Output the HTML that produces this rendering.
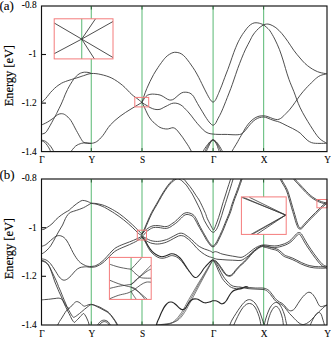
<!DOCTYPE html>
<html><head><meta charset="utf-8"><style>html,body{margin:0;padding:0;background:#fff;width:331px;height:337px;overflow:hidden}svg{display:block}</style></head>
<body>
<svg width="331" height="337" viewBox="0 0 331 337">
<style>.f{font-family:"Liberation Serif",serif;fill:#000}.t{font-family:"Liberation Serif",serif;font-size:9.7px;fill:#000;stroke:#000;stroke-width:0.25px}.l{font-family:"Liberation Serif",serif;font-size:13px;fill:#000;stroke:#000;stroke-width:0.3px}.e{font-family:"Liberation Serif",serif;font-size:12.3px;fill:#000;stroke:#000;stroke-width:0.3px}</style>
<rect width="331" height="337" fill="#fff"/>
<clipPath id="c1"><rect x="41.5" y="6.0" width="285.5" height="145.6"/></clipPath>
<line x1="91.3" y1="6.0" x2="91.3" y2="151.6" stroke="#74c48a" stroke-width="1.2"/>
<line x1="142.0" y1="6.0" x2="142.0" y2="151.6" stroke="#74c48a" stroke-width="1.2"/>
<line x1="213.1" y1="6.0" x2="213.1" y2="151.6" stroke="#74c48a" stroke-width="1.2"/>
<line x1="263.6" y1="6.0" x2="263.6" y2="151.6" stroke="#74c48a" stroke-width="1.2"/>
<g clip-path="url(#c1)" fill="none" stroke="#3a3a3a" stroke-width="0.9">
<path d="M41.5 102.5C41.9 102.1 43.0 101.3 44.0 100.3C45.0 99.3 46.2 97.8 47.3 96.5C48.4 95.2 49.3 93.8 50.5 92.5C51.7 91.2 53.2 89.6 54.5 88.4C55.8 87.2 56.8 86.4 58.0 85.5C59.2 84.6 60.5 83.8 61.7 83.1C63.0 82.4 64.3 82.0 65.5 81.5C66.7 81.0 67.5 80.8 69.0 80.3C70.5 79.8 72.7 79.1 74.4 78.6C76.1 78.1 77.5 77.7 79.0 77.2C80.5 76.7 81.5 76.3 83.5 75.7C85.5 75.1 88.4 73.7 91.3 73.5C94.2 73.3 97.5 73.7 100.9 74.5C104.3 75.3 108.2 76.3 111.8 78.1C115.4 79.9 119.3 82.7 122.6 85.4C125.9 88.1 129.1 92.1 131.7 94.4C134.3 96.7 136.3 97.9 138.0 99.2C139.7 100.5 141.3 101.9 142.0 102.4"/>
<path d="M41.5 134.0C41.9 133.9 43.2 133.9 44.0 133.5C44.8 133.1 45.5 132.8 46.3 131.8C47.1 130.8 47.6 129.9 49.0 127.5C50.4 125.1 53.1 120.0 54.5 117.5C55.9 115.0 56.2 114.4 57.2 112.3C58.2 110.2 59.7 107.3 60.8 105.0C61.9 102.7 62.5 101.1 63.6 98.5C64.7 95.9 65.8 92.7 67.5 89.5C69.2 86.3 71.6 82.1 73.5 79.5C75.4 76.9 77.2 75.2 79.0 74.0C80.8 72.8 82.7 72.4 84.4 72.2C86.1 72.0 87.8 72.4 89.0 72.6C90.2 72.8 90.9 73.3 91.3 73.5"/>
<path d="M41.5 125.0C42.5 124.5 45.1 123.5 47.3 122.2C49.5 120.9 52.7 118.6 54.5 117.3C56.3 116.0 56.8 115.1 58.0 114.5C59.2 113.9 60.5 113.6 61.7 113.7C62.9 113.8 63.9 113.9 65.4 115.0C66.9 116.1 69.0 117.8 70.8 120.4C72.6 123.0 74.6 127.4 76.3 130.4C78.0 133.4 79.6 136.5 80.8 138.5C82.0 140.5 82.5 141.4 83.5 142.2C84.5 143.0 85.8 143.0 87.1 143.2C88.4 143.4 89.7 143.7 91.3 143.4C92.9 143.1 94.8 142.9 96.7 141.6C98.6 140.3 100.5 138.4 102.8 135.6C105.1 132.8 107.4 128.2 110.3 125.0C113.2 121.8 116.5 119.0 120.0 116.3C123.5 113.6 127.3 111.3 131.0 109.0C134.7 106.7 140.2 103.5 142.0 102.4"/>
<path d="M41.5 140.0C42.1 140.2 44.1 140.6 45.4 141.3C46.7 142.1 48.0 143.4 49.1 144.5C50.2 145.6 51.0 146.8 51.8 148.1C52.6 149.3 53.6 151.3 54.0 152.0"/>
<path d="M41.5 140.7C42.0 140.9 43.5 141.4 44.5 142.2C45.5 143.0 46.5 144.3 47.3 145.4C48.1 146.5 48.9 147.9 49.5 149.0C50.1 150.1 50.5 151.5 50.7 152.0"/>
<path d="M70.3 152.5C71.2 151.4 73.7 147.6 75.6 146.1C77.5 144.6 79.9 143.8 81.6 143.3C83.3 142.8 84.4 142.9 86.0 142.9C87.6 142.9 90.4 143.2 91.3 143.3"/>
<path d="M142.0 102.4C142.3 101.3 143.2 98.3 144.0 96.0C144.8 93.7 145.8 90.9 146.8 88.5C147.8 86.1 148.9 83.8 150.0 81.5C151.1 79.2 152.3 76.8 153.6 74.5C154.9 72.2 156.5 69.8 158.0 67.5C159.5 65.2 161.4 62.6 162.7 60.9C164.0 59.1 164.9 58.1 166.0 57.0C167.1 55.9 168.3 55.0 169.5 54.3C170.7 53.6 171.9 52.9 173.0 52.6C174.1 52.3 174.9 52.2 176.0 52.3C177.1 52.4 178.5 52.6 179.8 53.1C181.1 53.6 182.3 54.4 183.6 55.5C184.9 56.6 186.1 58.2 187.4 59.8C188.7 61.4 189.9 63.2 191.2 65.0C192.5 66.8 193.7 68.6 195.0 70.7C196.3 72.8 197.7 75.4 198.8 77.5C199.9 79.6 200.8 81.5 201.7 83.4C202.6 85.3 203.6 87.2 204.5 89.1C205.4 91.0 206.6 93.1 207.4 94.7C208.2 96.3 208.9 97.5 209.5 98.5C210.1 99.5 210.6 100.3 211.2 100.9C211.8 101.5 212.3 101.9 212.8 102.0C213.3 102.1 213.8 102.0 214.3 101.5C214.8 101.0 215.4 100.2 215.9 99.3C216.4 98.4 216.9 97.1 217.4 96.0C217.9 94.9 218.2 94.3 218.9 92.5C219.7 90.7 220.9 87.7 221.9 85.2C222.9 82.7 223.8 79.9 224.8 77.3C225.8 74.7 226.9 72.0 227.8 69.5C228.8 67.0 229.5 64.8 230.5 62.0C231.5 59.2 232.6 55.7 233.8 52.5C235.0 49.3 236.5 45.6 237.7 43.0C238.9 40.4 240.0 38.5 241.0 36.8C242.0 35.0 242.8 33.9 243.8 32.5C244.8 31.1 245.8 29.6 246.9 28.3C248.0 27.0 249.3 25.6 250.5 24.7C251.7 23.8 253.0 23.2 254.2 22.9C255.4 22.6 256.7 22.8 257.8 22.9C258.9 23.0 259.8 23.4 260.8 23.7C261.8 24.0 262.7 24.3 263.6 24.9C264.5 25.5 265.2 26.1 266.3 27.1C267.4 28.1 268.6 28.9 270.0 30.9C271.4 32.9 273.1 35.9 274.7 39.0C276.3 42.1 278.1 46.2 279.5 49.7C280.9 53.2 282.0 56.9 283.0 60.0C284.0 63.1 284.5 65.2 285.5 68.5C286.5 71.8 287.6 75.7 289.0 79.5C290.4 83.3 291.9 86.7 293.8 91.4C295.7 96.1 297.4 102.1 300.2 107.8C302.9 113.5 307.1 120.5 310.3 125.5C313.5 130.6 316.4 135.2 319.1 138.1C321.8 141.0 325.4 142.3 326.6 143.2"/>
<path d="M142.0 102.4C142.4 101.7 143.6 99.5 144.5 98.3C145.4 97.1 146.2 96.0 147.3 95.3C148.4 94.6 149.8 94.4 151.0 94.2C152.2 94.0 153.0 94.1 154.5 94.2C156.0 94.3 158.4 94.5 160.0 95.0C161.6 95.5 162.5 96.2 163.8 96.9C165.1 97.6 166.4 98.8 167.6 99.3C168.8 99.8 169.8 100.2 170.9 100.1C172.0 100.0 173.0 99.6 174.2 98.8C175.4 98.0 176.7 96.5 178.0 95.5C179.3 94.5 180.6 93.3 181.8 92.8C183.0 92.2 184.1 92.2 185.2 92.2C186.3 92.2 187.5 92.3 188.5 92.6C189.5 92.9 190.2 93.2 191.0 93.8C191.8 94.4 192.7 95.1 193.5 96.3C194.3 97.5 195.1 99.2 196.0 100.8C196.9 102.4 198.0 104.4 199.0 106.1C200.0 107.8 201.1 109.5 202.1 111.2C203.1 112.9 204.1 114.6 205.1 116.2C206.1 117.8 207.3 119.6 208.1 120.7C208.9 121.8 209.4 122.4 210.0 123.0C210.6 123.6 211.0 124.1 211.5 124.5C212.0 124.9 212.5 125.2 213.0 125.2C213.5 125.2 214.0 124.9 214.5 124.5C215.0 124.1 215.4 123.6 216.0 122.6C216.6 121.5 217.3 119.9 218.2 118.2C219.1 116.5 220.3 114.4 221.3 112.2C222.3 110.0 223.3 107.5 224.3 105.1C225.3 102.6 226.2 100.3 227.3 97.5C228.4 94.7 229.7 91.4 230.8 88.5C231.9 85.6 232.7 83.3 233.8 80.0C235.0 76.7 236.4 72.2 237.7 68.6C239.0 65.0 240.4 61.5 241.7 58.2C243.0 55.0 244.2 52.0 245.6 49.1C247.0 46.2 248.8 43.0 250.0 40.6C251.2 38.2 251.9 36.7 253.0 35.0C254.1 33.3 255.4 31.8 256.6 30.5C257.8 29.2 259.0 28.0 260.2 27.1C261.4 26.2 262.6 25.4 263.6 24.9C264.6 24.4 265.2 24.2 266.3 24.1C267.4 24.0 268.4 23.9 270.0 24.5C271.6 25.1 273.9 26.2 275.9 27.7C277.9 29.2 279.9 31.3 281.9 33.6C283.9 35.9 285.8 38.6 287.8 41.4C289.8 44.2 291.7 47.4 293.7 50.2C295.7 53.0 298.1 55.8 300.0 58.0C301.9 60.2 303.3 61.9 305.0 63.5C306.7 65.1 308.3 66.3 310.0 67.5C311.7 68.7 313.3 69.7 315.0 70.5C316.7 71.3 318.1 72.0 320.0 72.5C321.9 73.0 325.5 73.6 326.6 73.8"/>
<path d="M142.0 102.4C142.4 102.7 143.6 103.6 144.5 104.2C145.4 104.8 146.4 105.2 147.3 105.8C148.2 106.3 149.1 107.0 150.0 107.5C150.9 108.0 151.7 108.4 152.7 108.7C153.7 109.0 154.8 109.4 156.0 109.5C157.2 109.6 158.7 109.6 160.0 109.3C161.3 109.0 162.5 108.0 163.8 107.4C165.1 106.8 166.3 106.1 167.6 105.5C168.9 104.9 170.1 104.0 171.4 103.6C172.7 103.2 173.9 103.0 175.2 103.1C176.5 103.2 177.7 103.5 179.0 104.0C180.3 104.5 181.7 105.5 182.8 106.4C183.9 107.3 184.7 108.4 185.6 109.3C186.5 110.2 187.1 110.8 188.0 111.8C188.9 112.8 189.9 113.9 190.8 115.1C191.8 116.3 192.6 117.5 193.7 118.9C194.8 120.3 196.2 122.2 197.5 123.7C198.8 125.2 200.0 126.6 201.3 127.9C202.6 129.2 203.8 130.6 205.1 131.5C206.4 132.4 207.6 133.0 208.9 133.4C210.2 133.8 211.7 133.9 213.2 134.1C214.7 134.3 216.0 134.3 218.0 134.4C220.0 134.5 223.0 134.4 225.0 134.4C227.0 134.4 228.2 134.5 230.0 134.6C231.8 134.7 234.3 134.8 235.9 134.8C237.5 134.8 238.4 134.7 239.5 134.5C240.6 134.3 241.2 134.2 242.2 133.5C243.2 132.8 244.4 131.4 245.5 130.2C246.6 129.0 247.5 127.6 248.6 126.3C249.7 125.0 250.8 123.5 252.0 122.3C253.2 121.1 254.6 120.1 255.8 119.3C257.1 118.5 258.2 118.0 259.5 117.6C260.8 117.2 262.4 117.0 263.6 117.0C264.9 117.0 265.9 117.4 267.0 117.8C268.1 118.2 269.1 118.8 270.3 119.2C271.5 119.7 272.8 120.1 274.0 120.5C275.2 120.9 276.4 121.1 277.6 121.5C278.8 121.9 279.8 122.2 281.0 122.8C282.2 123.3 283.5 124.0 285.0 124.8C286.5 125.5 288.4 126.5 290.1 127.3C291.8 128.1 293.3 128.8 295.0 129.8C296.7 130.8 298.7 131.9 300.2 133.1C301.7 134.3 302.7 135.8 304.0 137.0C305.3 138.2 306.6 139.7 307.8 140.6C309.1 141.5 310.2 142.1 311.5 142.6C312.8 143.1 314.0 143.2 315.4 143.3C316.8 143.4 318.1 143.4 320.0 143.4C321.9 143.4 325.5 143.3 326.6 143.3"/>
<path d="M142.0 102.4C142.4 103.2 143.7 105.7 144.5 107.5C145.3 109.3 146.2 111.5 147.0 113.0C147.8 114.5 148.2 115.6 149.0 116.8C149.8 118.0 150.6 119.2 151.5 120.3C152.4 121.4 153.5 122.3 154.5 123.2C155.5 124.1 156.6 125.0 157.5 125.7C158.4 126.4 159.0 126.9 160.0 127.4C161.0 127.9 162.3 128.3 163.5 128.6C164.7 128.9 166.1 129.0 167.2 129.0C168.3 129.0 169.0 128.6 170.0 128.4C171.0 128.2 172.1 127.5 173.1 127.7C174.1 127.9 175.2 128.4 176.2 129.3C177.2 130.2 178.2 131.7 179.3 133.0C180.4 134.3 181.4 135.7 182.5 137.2C183.6 138.7 184.6 140.2 185.6 141.8C186.6 143.4 187.8 144.9 188.7 146.5C189.6 148.1 190.7 150.1 191.3 151.2C191.9 152.3 192.3 152.7 192.5 153.0"/>
<path d="M202.4 152.5C202.8 151.8 204.1 149.5 205.0 148.2C205.9 146.9 206.8 145.6 207.6 144.6C208.4 143.6 209.2 142.6 209.8 141.9C210.5 141.2 211.0 140.7 211.5 140.4C212.0 140.1 212.5 139.9 213.0 139.9C213.5 139.9 213.9 140.1 214.5 140.4C215.1 140.7 215.6 141.2 216.3 141.9C217.0 142.6 217.8 143.6 218.5 144.6C219.2 145.6 219.9 146.9 220.7 148.2C221.5 149.5 222.7 151.8 223.1 152.5"/>
<path d="M204.3 152.5C204.7 151.8 205.7 149.7 206.4 148.4C207.1 147.1 207.8 145.8 208.5 144.7C209.2 143.6 209.8 142.7 210.3 142.0C210.8 141.3 211.2 140.8 211.7 140.5C212.1 140.2 212.6 140.0 213.0 140.0C213.4 140.0 213.8 140.2 214.3 140.5C214.8 140.8 215.2 141.3 215.8 142.0C216.4 142.7 217.0 143.6 217.6 144.7C218.2 145.8 218.9 147.1 219.5 148.4C220.1 149.7 221.1 151.8 221.4 152.5"/>
<path d="M205.8 152.5C206.1 151.8 207.0 149.9 207.6 148.6C208.2 147.3 208.8 146.0 209.3 144.9C209.8 143.8 210.4 142.8 210.8 142.1C211.2 141.4 211.6 140.9 212.0 140.6C212.4 140.3 212.7 140.1 213.0 140.1C213.3 140.1 213.6 140.3 214.0 140.6C214.4 140.9 214.8 141.4 215.3 142.1C215.8 142.8 216.4 143.8 216.9 144.9C217.4 146.0 217.7 147.3 218.2 148.6C218.7 149.9 219.4 151.8 219.7 152.5"/>
<path d="M231.3 152.5C231.8 151.6 233.4 148.8 234.5 147.0C235.6 145.2 236.8 143.3 237.7 141.7C238.6 140.1 239.2 138.8 240.0 137.5C240.8 136.2 241.4 135.2 242.2 133.8C243.0 132.4 244.1 130.3 245.0 128.8C245.9 127.3 246.7 126.1 247.7 124.8C248.7 123.5 249.8 122.1 251.0 121.0C252.2 119.9 253.6 118.8 254.9 118.0C256.2 117.2 257.6 116.6 259.0 116.2C260.4 115.8 262.3 115.8 263.6 115.8C264.9 115.8 265.9 116.1 267.0 116.4C268.1 116.7 269.1 117.2 270.3 117.6C271.5 118.0 272.8 118.7 274.0 119.0C275.2 119.3 276.5 119.7 277.6 119.6C278.7 119.5 279.6 119.0 280.5 118.5C281.4 118.0 282.2 117.2 283.0 116.5C283.8 115.8 283.8 115.7 285.0 114.5C286.2 113.3 288.4 111.1 290.1 109.1C291.8 107.1 293.3 104.8 295.0 102.5C296.7 100.2 298.4 97.6 300.2 95.2C302.0 92.8 303.9 90.6 306.0 88.3C308.1 86.0 311.1 83.1 312.8 81.4C314.6 79.7 315.2 79.0 316.5 78.0C317.8 77.0 318.7 76.2 320.4 75.5C322.1 74.8 325.6 74.1 326.6 73.8"/>
</g>
<clipPath id="c2"><rect x="41.5" y="179.0" width="285.5" height="146.0"/></clipPath>
<line x1="91.3" y1="179.0" x2="91.3" y2="325.0" stroke="#74c48a" stroke-width="1.2"/>
<line x1="142.0" y1="179.0" x2="142.0" y2="325.0" stroke="#74c48a" stroke-width="1.2"/>
<line x1="213.1" y1="179.0" x2="213.1" y2="325.0" stroke="#74c48a" stroke-width="1.2"/>
<line x1="263.6" y1="179.0" x2="263.6" y2="325.0" stroke="#74c48a" stroke-width="1.2"/>
<g clip-path="url(#c2)" fill="none" stroke="#3a3a3a" stroke-width="0.9">
<path d="M41.5 229.5C41.9 229.5 43.1 229.7 44.0 229.3C44.9 229.0 45.8 228.3 47.1 227.4C48.4 226.5 50.4 225.3 51.9 224.0C53.4 222.7 54.4 221.0 56.0 219.5C57.6 218.0 59.7 216.2 61.4 215.0C63.1 213.8 64.7 212.8 66.0 212.0C67.3 211.2 67.9 211.2 69.0 210.4C70.1 209.6 71.3 208.1 72.5 207.0C73.7 205.9 75.1 204.9 76.3 204.0C77.5 203.1 78.5 202.4 79.5 201.8C80.5 201.2 81.3 200.5 82.6 200.4C83.9 200.3 85.6 200.8 87.1 201.3C88.5 201.8 90.6 202.9 91.3 203.2"/>
<path d="M41.5 254.1C42.2 253.6 44.4 252.5 45.9 251.1C47.4 249.7 49.1 248.1 50.7 245.8C52.3 243.5 54.0 240.0 55.4 237.5C56.8 235.0 57.8 233.1 59.0 231.0C60.2 228.9 61.5 227.1 62.6 225.0C63.7 222.9 64.5 220.3 65.4 218.6C66.3 216.8 67.1 215.6 68.0 214.5C68.9 213.4 69.4 212.9 70.8 212.2C72.2 211.5 74.2 211.2 76.3 210.4C78.4 209.7 81.0 208.9 83.5 207.7C86.0 206.5 90.0 203.9 91.3 203.2"/>
<path d="M91.3 203.2C92.1 203.2 94.5 203.3 96.0 203.5C97.5 203.7 98.6 204.0 100.0 204.3C101.4 204.7 102.8 204.9 104.5 205.6C106.2 206.2 108.3 207.3 110.0 208.2C111.7 209.0 113.0 209.8 114.5 210.7C116.0 211.6 117.6 212.5 119.1 213.6C120.6 214.7 122.1 215.8 123.6 217.0C125.1 218.2 126.7 219.6 128.2 220.9C129.7 222.2 131.3 223.7 132.8 225.1C134.3 226.5 136.1 228.3 137.3 229.5C138.5 230.7 139.1 231.2 139.8 232.0C140.6 232.8 141.5 233.7 141.8 234.0"/>
<path d="M91.3 203.4C92.1 203.5 94.5 203.8 96.0 204.1C97.5 204.4 98.6 204.9 100.0 205.4C101.4 205.9 102.8 206.5 104.5 207.3C106.2 208.2 108.3 209.5 110.0 210.5C111.7 211.5 113.0 212.3 114.5 213.3C116.0 214.3 117.6 215.3 119.1 216.4C120.6 217.5 122.1 218.6 123.6 219.8C125.1 221.0 126.7 222.3 128.2 223.6C129.7 224.9 131.3 226.4 132.8 227.8C134.3 229.2 136.1 231.2 137.3 232.3C138.5 233.4 139.1 234.0 139.8 234.5C140.6 235.0 141.5 235.3 141.8 235.5"/>
<path d="M41.5 246.4C42.2 246.1 44.4 245.6 45.9 244.6C47.4 243.6 49.0 241.8 50.7 240.4C52.4 239.0 54.4 237.1 56.0 236.3C57.6 235.5 58.9 235.5 60.2 235.7C61.5 235.9 62.9 236.6 64.0 237.5C65.1 238.4 66.0 239.5 67.0 241.0C68.0 242.5 69.0 244.6 70.0 246.5C71.0 248.4 72.0 250.7 73.0 252.5C74.0 254.3 75.0 256.1 76.0 257.5C77.0 258.9 77.8 260.1 78.8 261.2C79.8 262.2 80.9 263.1 82.0 263.8C83.1 264.5 84.6 265.2 85.6 265.6C86.6 266.0 87.0 266.2 88.0 266.3C89.0 266.4 90.2 266.6 91.3 266.5C92.4 266.4 93.6 266.2 94.6 266.0C95.5 265.8 96.2 265.4 97.0 265.0C97.8 264.6 98.8 264.0 99.6 263.4C100.4 262.8 101.2 262.2 102.0 261.5C102.8 260.8 103.8 260.0 104.6 259.2C105.4 258.4 106.2 257.4 107.0 256.5C107.8 255.6 108.8 254.5 109.6 253.6C110.4 252.7 111.2 251.8 112.0 251.0C112.8 250.2 113.7 249.3 114.6 248.6C115.5 247.9 116.4 247.4 117.5 246.8C118.6 246.2 120.0 245.6 121.2 245.1C122.5 244.6 123.6 244.1 125.0 243.6C126.4 243.1 128.1 242.4 129.5 241.9C130.9 241.4 132.1 240.9 133.5 240.3C134.9 239.7 136.4 239.1 137.8 238.4C139.2 237.7 141.1 236.6 141.8 236.2"/>
<path d="M41.5 258.8C42.2 259.0 44.4 259.1 45.9 259.9C47.4 260.7 48.9 261.8 50.4 263.5C51.9 265.2 53.3 267.8 54.8 270.0C56.3 272.2 57.9 275.3 59.3 277.0C60.7 278.7 61.8 279.6 63.0 280.0C64.2 280.4 65.4 280.1 66.7 279.4C68.0 278.7 69.6 277.2 71.1 275.7C72.6 274.2 74.1 271.9 75.6 270.5C77.1 269.1 78.3 268.2 80.0 267.6C81.7 267.0 84.3 266.9 85.6 266.8C86.9 266.7 87.0 266.9 88.0 267.0C89.0 267.1 90.2 267.3 91.3 267.3C92.4 267.3 93.6 267.2 94.6 267.0C95.5 266.8 96.2 266.6 97.0 266.2C97.8 265.8 98.8 265.4 99.6 264.9C100.4 264.4 101.2 264.0 102.0 263.4C102.8 262.8 103.8 262.1 104.6 261.3C105.4 260.6 106.2 259.7 107.0 258.9C107.8 258.1 108.8 257.1 109.6 256.3C110.4 255.5 111.2 254.6 112.0 253.8C112.8 253.0 113.7 252.3 114.6 251.6C115.5 250.9 116.4 250.4 117.5 249.8C118.6 249.2 120.0 248.7 121.2 248.1C122.5 247.5 123.6 247.1 125.0 246.5C126.4 245.9 128.1 245.2 129.5 244.6C130.9 244.0 132.1 243.4 133.5 242.7C134.9 242.0 136.4 241.3 137.8 240.4C139.2 239.5 141.1 237.9 141.8 237.4"/>
<path d="M41.5 260.3C42.1 260.5 43.8 260.7 45.0 261.5C46.2 262.3 47.4 263.2 48.5 265.0C49.6 266.8 50.5 269.4 51.5 272.0C52.5 274.6 53.6 278.4 54.5 280.9C55.4 283.4 56.2 285.2 57.0 287.0C57.8 288.8 58.3 290.3 59.0 291.8C59.7 293.3 60.4 294.6 61.0 296.0C61.6 297.4 62.1 298.7 62.7 299.9C63.3 301.1 63.9 302.2 64.5 303.3C65.1 304.4 65.7 305.6 66.3 306.3C66.9 307.1 67.5 307.5 68.0 307.8C68.5 308.1 68.9 308.3 69.5 308.0C70.1 307.7 70.8 306.7 71.5 306.0C72.2 305.3 72.8 304.5 73.5 303.8C74.2 303.1 74.9 302.4 75.5 302.0C76.1 301.6 76.6 301.6 77.2 301.6C77.8 301.7 78.4 302.0 79.0 302.3C79.6 302.6 80.2 303.1 80.8 303.6C81.4 304.1 81.9 304.8 82.5 305.2C83.1 305.6 83.7 306.1 84.4 306.2C85.1 306.2 85.7 305.8 86.5 305.5C87.3 305.2 88.1 304.8 89.0 304.6C89.9 304.4 90.9 304.3 91.7 304.4C92.5 304.5 93.2 304.7 94.0 305.0C94.8 305.3 95.2 305.8 96.2 306.3C97.2 306.8 98.7 307.4 100.0 308.1C101.3 308.8 102.7 309.6 104.0 310.3C105.3 311.0 106.7 311.6 107.9 312.5C109.1 313.4 110.1 314.4 111.0 315.5C111.9 316.6 112.7 317.8 113.4 318.9C114.2 320.0 114.8 320.8 115.5 322.0C116.2 323.2 117.2 325.3 117.5 326.0"/>
<path d="M41.5 261.0C42.1 261.2 44.0 261.5 45.3 262.3C46.5 263.1 47.8 264.2 49.0 266.0C50.2 267.8 51.3 270.5 52.5 273.0C53.7 275.5 55.3 278.6 56.3 280.9C57.3 283.1 57.8 284.7 58.5 286.5C59.2 288.3 60.1 290.1 60.8 291.8C61.5 293.5 62.1 295.0 62.7 296.5C63.3 298.0 63.9 299.4 64.5 300.8C65.1 302.2 65.7 303.6 66.3 305.0C66.9 306.4 67.5 307.8 68.1 309.0C68.7 310.2 69.4 311.2 70.0 312.3C70.6 313.4 71.1 314.5 71.7 315.3C72.3 316.1 72.9 317.1 73.5 317.3C74.1 317.5 74.7 316.9 75.3 316.6C75.9 316.3 76.5 315.8 77.2 315.3C77.9 314.8 78.8 314.1 79.5 313.5C80.2 312.9 80.9 312.4 81.7 311.7C82.5 311.0 83.6 310.1 84.5 309.3C85.4 308.6 86.3 307.8 87.1 307.2C87.9 306.6 88.7 305.9 89.5 305.5C90.3 305.1 90.8 304.6 91.7 304.6C92.6 304.6 93.6 305.0 95.0 305.4C96.4 305.8 98.5 306.5 100.0 307.2C101.5 307.9 102.7 308.8 104.0 309.5C105.3 310.2 106.8 310.9 107.9 311.7C109.0 312.5 109.6 313.4 110.5 314.5C111.4 315.6 112.5 316.9 113.4 318.1C114.3 319.4 115.2 320.7 116.0 322.0C116.8 323.3 117.8 325.3 118.2 326.0"/>
<path d="M41.5 299.9C42.2 299.8 44.4 299.6 46.0 299.5C47.6 299.4 49.4 299.2 50.9 299.0C52.4 298.8 53.8 298.6 55.0 298.5C56.2 298.4 57.3 298.1 58.1 298.1C58.9 298.1 59.4 298.2 60.0 298.4C60.6 298.6 61.2 298.6 61.8 299.2C62.4 299.8 62.9 300.8 63.5 302.0C64.1 303.2 64.8 305.0 65.4 306.3C66.0 307.6 66.6 308.8 67.2 310.0C67.8 311.2 68.5 312.4 69.0 313.5C69.5 314.6 70.0 315.6 70.5 316.5C71.0 317.4 71.3 318.2 71.7 319.0C72.1 319.8 72.5 320.4 73.0 321.0C73.5 321.6 73.8 322.5 74.4 322.4C75.0 322.3 75.7 321.2 76.5 320.5C77.3 319.8 78.2 318.8 79.0 318.0C79.8 317.2 80.5 316.2 81.2 315.5C82.0 314.8 82.9 313.6 83.5 313.5C84.1 313.4 84.5 314.4 85.0 315.0C85.5 315.6 85.9 316.3 86.2 317.0C86.5 317.7 86.8 318.2 87.1 319.0C87.4 319.8 87.9 320.6 88.2 321.5C88.5 322.4 88.8 323.6 89.0 324.4C89.2 325.1 89.4 325.7 89.5 326.0"/>
<path d="M57.2 326.0C57.6 325.2 58.7 322.8 59.5 321.5C60.3 320.2 61.0 319.2 61.8 318.0C62.5 316.8 63.2 315.5 64.0 314.3C64.8 313.1 65.6 311.7 66.3 310.8C67.0 309.9 67.5 309.5 68.0 309.0C68.5 308.5 69.2 308.2 69.5 308.0"/>
<path d="M97.0 326.0C97.3 325.5 98.2 324.0 98.8 323.2C99.4 322.4 100.1 321.8 100.7 321.3C101.3 320.8 101.9 320.6 102.5 320.4C103.1 320.2 103.7 320.2 104.3 320.2C104.9 320.2 105.4 320.4 106.0 320.6C106.6 320.9 107.4 321.2 108.0 321.7C108.6 322.2 109.0 322.8 109.5 323.5C110.0 324.2 110.5 325.6 110.7 326.0"/>
<path d="M98.6 326.0C98.9 325.6 99.6 324.4 100.2 323.8C100.8 323.2 101.3 322.7 102.0 322.3C102.7 321.9 103.5 321.6 104.3 321.6C105.0 321.6 105.8 321.9 106.5 322.2C107.2 322.5 107.7 323.0 108.2 323.6C108.7 324.2 109.2 325.6 109.4 326.0"/>
<path d="M141.8 234.8C142.3 233.9 143.7 231.6 144.8 229.3C145.9 227.0 147.2 223.7 148.4 221.0C149.6 218.3 150.6 215.8 152.0 213.1C153.4 210.4 155.2 207.6 156.8 204.8C158.4 202.0 160.1 199.0 161.5 196.5C162.9 194.0 164.3 191.8 165.5 190.0C166.7 188.2 167.6 187.1 168.6 185.8C169.6 184.6 170.6 183.4 171.6 182.5C172.6 181.6 173.5 180.8 174.5 180.2C175.5 179.5 176.4 178.9 177.5 178.6C178.6 178.3 179.9 178.3 181.0 178.4C182.1 178.5 183.0 178.5 184.0 179.3C185.0 180.1 186.0 181.8 187.0 183.0C188.0 184.2 189.0 185.3 190.0 186.6C191.0 187.9 192.0 189.3 193.0 190.8C194.0 192.3 195.1 194.1 196.1 195.6C197.1 197.1 198.1 198.3 199.1 200.0C200.1 201.7 201.0 203.8 202.0 205.8C203.0 207.8 204.2 210.7 204.9 212.1C205.6 213.5 205.5 213.4 205.9 214.5C206.3 215.6 206.7 217.3 207.4 218.8C208.1 220.3 209.2 222.3 209.9 223.7C210.6 225.1 211.2 226.4 211.7 227.3C212.2 228.2 212.6 229.0 212.9 229.4C213.2 229.8 213.2 229.9 213.4 229.9C213.6 229.9 213.7 230.1 214.0 229.5C214.3 228.9 214.8 227.8 215.3 226.5C215.8 225.2 216.4 223.5 217.0 222.0C217.6 220.5 218.1 219.0 218.6 217.5C219.1 216.0 219.6 214.4 220.0 213.0C220.4 211.6 220.8 210.3 221.2 209.0C221.6 207.7 221.9 206.2 222.3 205.0C222.7 203.8 223.0 202.7 223.4 201.5C223.8 200.3 224.1 199.2 224.5 198.0C224.9 196.8 225.4 195.4 225.8 194.0C226.2 192.6 226.7 191.1 227.2 189.5C227.7 187.9 228.2 186.2 228.8 184.5C229.4 182.8 230.0 181.0 230.5 179.4C231.0 177.8 231.5 175.7 231.7 175.0"/>
<path d="M141.8 234.0C142.2 233.1 143.4 231.1 144.4 228.8C145.4 226.6 146.7 223.2 147.9 220.5C149.1 217.8 150.1 215.3 151.5 212.6C152.9 209.9 154.7 207.1 156.3 204.3C157.9 201.5 159.6 198.5 161.0 196.0C162.4 193.5 163.8 191.3 165.0 189.5C166.2 187.7 167.1 186.4 168.1 185.1C169.1 183.8 170.1 182.6 171.0 181.7C171.9 180.8 172.5 180.1 173.4 179.6C174.3 179.1 175.4 178.6 176.5 178.6C177.6 178.6 179.1 179.1 180.2 179.6C181.3 180.1 182.0 180.9 183.0 181.8C184.0 182.7 185.2 183.8 186.3 185.1C187.4 186.4 188.3 188.0 189.3 189.5C190.3 191.0 191.3 192.3 192.3 194.1C193.3 195.8 194.4 198.1 195.4 200.0C196.4 201.9 197.3 203.8 198.3 205.8C199.3 207.8 200.5 210.4 201.2 212.1C201.9 213.8 202.0 214.4 202.5 215.8C203.0 217.2 203.7 219.1 204.4 220.6C205.1 222.1 206.0 223.5 206.8 224.9C207.6 226.3 208.6 227.8 209.3 228.8C210.0 229.9 210.6 230.6 211.1 231.2C211.6 231.8 212.2 231.9 212.6 232.1C213.0 232.3 213.2 232.3 213.4 232.3C213.7 232.3 213.6 232.6 214.1 232.1C214.6 231.6 215.8 230.6 216.5 229.4C217.2 228.2 217.9 226.6 218.5 225.0C219.1 223.4 219.7 221.6 220.2 220.0C220.7 218.4 221.2 217.0 221.7 215.5C222.2 214.0 222.6 212.4 223.0 211.0C223.4 209.6 223.9 208.3 224.3 207.0C224.7 205.7 225.1 204.5 225.5 203.3C225.9 202.1 226.2 201.0 226.6 199.8C227.0 198.6 227.4 197.4 227.8 196.0C228.2 194.6 228.8 193.2 229.3 191.5C229.8 189.8 230.5 187.8 231.0 186.0C231.5 184.2 232.1 182.3 232.5 181.0C232.9 179.7 233.1 179.0 233.4 178.0C233.7 177.0 234.3 175.5 234.5 175.0"/>
<path d="M141.8 234.5C142.2 233.9 143.7 232.1 144.5 231.2C145.3 230.3 145.8 230.0 146.6 229.3C147.4 228.7 148.4 227.9 149.5 227.3C150.6 226.7 151.6 226.1 153.0 225.8C154.4 225.5 156.4 225.5 158.1 225.6C159.8 225.7 161.7 226.2 163.0 226.4C164.3 226.6 165.0 226.7 166.0 226.6C167.0 226.5 167.9 226.2 168.8 225.8C169.7 225.4 170.6 224.6 171.5 224.0C172.4 223.4 173.6 222.7 174.5 222.0C175.4 221.3 176.1 220.7 177.0 219.8C177.9 218.9 179.0 217.8 180.0 216.8C181.0 215.8 181.9 214.7 183.0 214.0C184.1 213.3 185.6 212.7 186.8 212.6C188.0 212.5 189.0 212.9 190.0 213.2C191.0 213.5 192.1 213.9 192.9 214.5C193.7 215.1 194.2 215.7 194.8 216.5C195.4 217.3 195.9 218.2 196.6 219.5C197.3 220.8 198.1 222.8 199.0 224.5C199.9 226.2 201.0 228.3 201.9 230.0C202.8 231.7 203.6 232.9 204.5 234.5C205.4 236.1 206.4 237.9 207.2 239.3C208.0 240.7 208.8 241.9 209.5 242.8C210.2 243.8 210.6 244.5 211.2 245.0C211.8 245.5 212.3 246.0 212.9 246.0C213.5 246.0 214.0 245.5 214.5 245.0C215.0 244.5 215.4 243.9 216.0 243.0C216.6 242.1 217.2 240.8 217.8 239.6C218.4 238.3 219.2 236.8 219.8 235.5C220.4 234.2 221.0 232.8 221.6 231.5C222.2 230.2 222.6 229.2 223.2 227.8C223.8 226.4 224.4 224.9 225.0 223.3C225.6 221.8 226.3 220.1 227.0 218.5C227.7 216.9 228.5 215.2 229.1 213.5C229.7 211.8 230.2 210.1 230.7 208.5C231.2 206.9 231.4 205.9 232.0 204.2C232.6 202.5 233.3 200.4 234.0 198.5C234.7 196.6 235.4 194.9 236.2 192.9C236.9 190.9 237.7 188.7 238.5 186.5C239.3 184.3 240.1 181.9 240.8 179.8C241.5 177.7 242.2 175.0 242.5 174.0"/>
<path d="M143.2 235.6C143.6 235.1 145.1 233.2 145.8 232.4C146.6 231.6 147.0 231.3 147.7 230.7C148.5 230.1 149.4 229.4 150.4 228.9C151.3 228.4 152.1 227.8 153.3 227.6C154.6 227.3 156.4 227.3 158.0 227.4C159.6 227.5 161.4 228.0 162.8 228.2C164.1 228.4 165.1 228.5 166.2 228.4C167.3 228.3 168.5 227.9 169.6 227.4C170.6 226.9 171.5 226.2 172.5 225.5C173.5 224.8 174.6 224.2 175.6 223.4C176.5 222.7 177.3 222.0 178.2 221.1C179.2 220.2 180.3 219.0 181.3 218.1C182.2 217.2 183.0 216.1 183.9 215.5C184.9 214.9 186.1 214.5 187.0 214.4C187.9 214.3 188.6 214.7 189.5 214.9C190.3 215.2 191.3 215.4 192.0 215.8C192.7 216.2 193.1 216.6 193.6 217.4C194.2 218.1 194.7 218.8 195.4 220.1C196.2 221.4 197.1 223.3 198.0 225.0C198.9 226.7 200.2 228.8 201.1 230.4C202.1 232.1 202.8 233.4 203.7 234.9C204.6 236.5 205.6 238.4 206.4 239.8C207.3 241.2 208.1 242.3 208.8 243.3C209.5 244.3 209.9 245.1 210.6 245.7C211.3 246.3 212.1 246.9 212.9 246.9C213.7 246.9 214.5 246.2 215.1 245.6C215.8 245.1 216.2 244.4 216.8 243.5C217.3 242.5 218.0 241.3 218.6 240.0C219.2 238.7 220.0 237.2 220.6 235.9C221.3 234.5 221.9 233.2 222.4 231.9C223.0 230.6 223.5 229.5 224.0 228.1C224.6 226.8 225.2 225.2 225.8 223.6C226.5 222.1 227.1 220.5 227.8 218.8C228.5 217.2 229.3 215.5 229.9 213.8C230.6 212.1 231.1 210.3 231.6 208.8C232.0 207.2 232.3 206.1 232.9 204.5C233.4 202.8 234.1 200.7 234.8 198.8C235.5 196.9 236.3 195.2 237.0 193.2C237.8 191.2 238.6 189.0 239.3 186.8C240.1 184.6 241.0 182.2 241.7 180.1C242.3 178.0 243.1 175.2 243.4 174.3"/>
<path d="M141.8 235.5C142.3 235.8 143.7 236.9 144.8 237.6C145.9 238.3 147.3 239.0 148.5 239.6C149.7 240.2 150.9 240.6 152.1 240.9C153.3 241.2 154.5 241.3 155.7 241.4C156.9 241.5 158.1 241.4 159.3 241.3C160.5 241.2 161.8 240.9 163.0 240.6C164.2 240.3 165.4 240.0 166.6 239.6C167.8 239.2 169.0 238.5 170.2 237.9C171.4 237.3 172.7 236.6 173.8 236.0C174.9 235.4 176.0 234.8 177.0 234.3C178.0 233.8 178.9 233.3 180.0 233.2C181.1 233.1 182.5 233.3 183.5 233.7C184.5 234.0 185.2 234.8 186.0 235.3C186.8 235.9 187.6 236.3 188.5 237.0C189.4 237.7 190.4 238.5 191.3 239.3C192.2 240.1 193.1 241.0 194.0 241.8C194.9 242.7 195.7 243.6 196.6 244.4C197.5 245.2 198.3 245.8 199.2 246.4C200.1 247.0 201.0 247.5 201.9 247.9C202.8 248.3 203.6 248.7 204.5 249.0C205.4 249.3 206.4 249.6 207.2 249.9C208.0 250.2 208.8 250.4 209.5 250.7C210.2 251.0 210.6 251.2 211.2 251.5C211.8 251.8 212.6 252.6 212.9 252.8"/>
<path d="M141.8 236.5C142.3 237.0 143.7 238.7 144.8 239.6C145.9 240.5 147.3 241.4 148.5 242.0C149.7 242.6 150.9 243.1 152.1 243.4C153.3 243.7 154.5 243.9 155.7 244.0C156.9 244.1 158.1 244.0 159.3 243.9C160.5 243.8 161.8 243.5 163.0 243.2C164.2 242.9 165.4 242.6 166.6 242.1C167.8 241.6 169.0 241.0 170.2 240.4C171.4 239.8 172.7 239.0 173.8 238.4C174.9 237.8 176.0 237.2 177.0 236.7C178.0 236.2 178.9 235.7 180.0 235.6C181.1 235.5 182.5 235.7 183.5 236.0C184.5 236.3 185.2 236.9 186.0 237.5C186.8 238.1 187.6 238.7 188.5 239.4C189.4 240.1 190.4 241.0 191.3 241.9C192.2 242.8 193.1 243.9 194.0 244.9C194.9 245.9 195.7 247.0 196.6 247.9C197.5 248.8 198.3 249.6 199.2 250.4C200.1 251.2 201.0 251.9 201.9 252.6C202.8 253.3 203.6 253.8 204.5 254.4C205.4 255.0 206.4 255.5 207.2 255.9C208.0 256.3 208.8 256.6 209.5 256.8C210.2 257.0 210.6 257.1 211.2 257.3C211.8 257.5 212.6 257.7 212.9 257.8"/>
<path d="M141.8 236.5C142.3 237.1 143.7 238.2 144.8 239.9C145.9 241.6 147.3 244.6 148.5 246.5C149.7 248.4 150.7 249.9 152.1 251.3C153.5 252.7 155.3 254.1 156.9 255.0C158.5 255.9 160.2 256.7 161.8 256.8C163.4 256.9 165.0 256.1 166.6 255.6C168.2 255.1 169.8 253.9 171.4 253.8C173.0 253.7 174.9 254.3 176.3 255.0C177.7 255.7 178.9 256.9 180.0 258.0C181.1 259.1 182.2 260.6 183.0 261.8C183.8 263.0 184.3 263.8 185.1 265.0C185.8 266.2 186.8 267.7 187.5 268.8C188.2 269.9 189.0 270.9 189.6 271.8C190.2 272.7 190.8 273.3 191.3 274.0C191.8 274.7 192.2 275.3 192.8 275.9C193.4 276.5 194.3 277.3 195.1 277.5C195.9 277.7 196.5 277.6 197.4 276.9C198.3 276.2 199.5 274.8 200.5 273.5C201.5 272.2 202.4 270.6 203.3 269.3C204.2 268.0 205.2 267.0 206.1 265.9C207.0 264.8 208.2 263.6 209.0 262.8C209.8 262.0 210.3 261.5 211.0 261.0C211.7 260.5 212.6 260.0 212.9 259.8" stroke-width="1.10" stroke="#262626"/>
<path d="M141.8 237.2C142.3 237.9 143.7 239.3 144.8 241.2C145.9 243.0 147.3 246.3 148.5 248.3C149.7 250.3 150.7 251.7 152.1 253.1C153.5 254.5 155.3 255.9 156.9 256.8C158.5 257.7 160.2 258.2 161.8 258.3C163.4 258.4 165.0 257.8 166.6 257.4C168.2 256.9 169.8 255.7 171.4 255.6C173.0 255.5 174.9 256.1 176.3 256.8C177.7 257.5 178.9 258.6 180.0 259.6C181.1 260.6 182.1 261.9 183.0 263.0C183.9 264.1 184.6 265.1 185.3 266.1C186.1 267.2 187.1 268.8 187.5 269.3"/>
<path d="M212.9 252.8C213.2 252.6 213.9 252.0 214.5 251.8C215.1 251.6 215.8 251.6 216.5 251.8C217.2 252.0 218.1 252.4 219.0 252.8C219.9 253.2 220.9 253.7 222.1 254.0C223.3 254.3 224.7 254.6 226.0 254.9C227.3 255.2 228.6 255.4 230.1 255.7C231.6 256.0 233.2 256.2 235.0 256.5C236.8 256.8 239.4 257.5 241.0 257.4C242.6 257.3 243.3 256.7 244.5 256.0C245.7 255.3 247.1 254.2 248.3 253.3C249.6 252.4 250.8 251.2 252.0 250.3C253.2 249.4 254.2 248.6 255.5 247.8C256.8 247.1 258.1 246.3 259.5 245.8C260.9 245.3 262.2 245.0 263.6 244.9C265.0 244.8 266.6 245.2 268.0 245.3C269.4 245.5 270.5 245.7 272.0 245.8C273.5 245.9 275.3 246.0 277.0 245.8C278.7 245.6 280.3 245.1 282.0 244.6C283.7 244.1 285.6 243.4 287.1 242.6C288.6 241.8 289.9 240.8 291.0 239.8C292.1 238.8 293.1 237.5 294.0 236.5C294.9 235.5 295.8 234.5 296.5 233.8C297.2 233.1 297.8 232.6 298.5 232.5C299.2 232.4 299.8 232.5 300.5 233.0C301.2 233.5 301.8 234.3 302.5 235.5C303.2 236.7 304.1 238.4 305.0 240.0C305.9 241.6 307.0 243.4 308.0 245.0C309.0 246.6 310.0 248.0 311.0 249.5C312.0 251.0 313.0 252.4 314.0 253.8C315.0 255.2 315.9 256.4 317.0 257.8C318.1 259.2 319.5 261.1 320.6 262.3C321.7 263.5 322.4 264.3 323.5 265.0C324.6 265.7 326.4 266.2 327.0 266.5"/>
<path d="M263.5 246.4C264.2 246.5 266.4 246.6 267.8 246.8C269.2 246.9 270.4 247.2 271.9 247.3C273.5 247.4 275.4 247.5 277.2 247.3C278.9 247.1 280.7 246.6 282.5 246.0C284.2 245.5 286.2 244.8 287.8 243.9C289.4 243.1 290.8 242.0 292.0 240.9C293.2 239.9 294.2 238.5 295.1 237.5C296.0 236.5 296.9 235.5 297.5 234.9C298.1 234.3 298.4 234.1 298.8 234.0C299.1 233.9 299.2 233.8 299.6 234.2C300.0 234.6 300.6 235.2 301.2 236.3C301.9 237.4 302.8 239.2 303.7 240.8C304.6 242.3 305.7 244.2 306.7 245.8C307.7 247.4 308.8 248.9 309.8 250.3C310.8 251.8 311.8 253.3 312.8 254.7C313.8 256.1 314.7 257.3 315.8 258.7C316.9 260.2 318.3 262.0 319.5 263.3C320.6 264.6 321.5 265.5 322.7 266.3C323.8 267.0 325.8 267.6 326.4 267.9"/>
<path d="M212.9 257.8C213.3 258.0 214.8 258.6 215.6 258.8C216.4 259.1 216.9 259.2 218.0 259.3C219.1 259.4 220.8 259.5 222.1 259.6C223.4 259.7 224.7 259.8 226.0 259.9C227.3 260.0 228.6 260.0 230.1 260.1C231.6 260.2 233.2 260.2 235.0 260.3C236.8 260.4 239.4 260.7 241.0 260.4C242.6 260.1 243.3 259.4 244.5 258.6C245.7 257.9 247.1 256.9 248.3 255.9C249.6 254.9 250.8 253.6 252.0 252.5C253.2 251.4 254.2 250.5 255.5 249.6C256.8 248.7 258.1 247.7 259.5 247.0C260.9 246.3 262.2 245.7 263.6 245.6C265.0 245.5 266.6 246.1 268.0 246.5C269.4 246.9 270.3 247.3 272.0 247.8C273.7 248.3 275.9 248.3 278.0 249.5C280.1 250.7 282.6 253.6 284.3 254.8C286.1 256.0 287.1 256.0 288.5 256.6C289.9 257.2 291.4 257.6 292.8 258.2C294.2 258.8 295.6 259.6 297.0 260.3C298.4 261.0 299.9 261.8 301.3 262.5C302.7 263.2 304.1 263.8 305.5 264.3C306.9 264.8 308.5 265.4 309.9 265.7C311.3 266.0 312.6 266.2 314.0 266.4C315.4 266.6 316.2 266.6 318.4 266.7C320.6 266.8 325.6 266.7 327.0 266.7"/>
<path d="M263.3 247.0C264.0 247.1 266.3 247.5 267.6 247.9C269.0 248.2 270.0 248.7 271.6 249.1C273.2 249.6 275.3 249.6 277.3 250.7C279.3 251.9 281.7 254.8 283.5 256.0C285.3 257.2 286.5 257.3 288.0 257.9C289.4 258.5 290.8 258.9 292.2 259.5C293.6 260.1 295.0 260.8 296.4 261.5C297.8 262.3 299.3 263.1 300.7 263.8C302.1 264.4 303.5 265.1 305.0 265.6C306.5 266.2 308.1 266.7 309.6 267.1C311.0 267.4 312.4 267.6 313.8 267.8C315.3 268.0 316.2 268.0 318.4 268.1C320.6 268.2 325.6 268.1 327.0 268.1"/>
<path d="M212.9 259.8C213.4 260.0 215.1 260.3 216.0 261.0C216.9 261.7 217.6 262.5 218.6 263.8C219.6 265.1 220.9 267.1 222.0 268.7C223.1 270.3 224.2 272.1 225.1 273.2C226.0 274.3 226.7 274.7 227.5 275.1C228.3 275.5 229.2 275.7 230.0 275.5C230.8 275.3 231.7 274.8 232.5 274.0C233.3 273.2 234.1 271.9 235.0 270.8C235.9 269.7 237.2 268.2 238.0 267.3C238.8 266.4 239.1 266.1 240.0 265.2C240.9 264.3 242.4 263.3 243.7 262.0C245.0 260.7 246.6 258.8 248.0 257.3C249.4 255.8 250.7 254.2 252.0 252.8C253.3 251.5 254.7 250.2 256.0 249.2C257.3 248.2 258.7 247.2 260.0 246.6C261.3 246.0 263.0 245.6 263.6 245.4"/>
<path d="M212.6 260.5C213.1 260.6 214.7 260.9 215.6 261.6C216.5 262.2 217.1 263.0 218.0 264.2C219.0 265.5 220.3 267.5 221.4 269.1C222.5 270.7 223.6 272.6 224.6 273.7C225.5 274.8 226.3 275.3 227.2 275.7C228.1 276.2 229.2 276.4 230.2 276.2C231.1 276.0 232.1 275.3 233.0 274.5C233.9 273.7 234.6 272.4 235.5 271.2C236.5 270.1 237.7 268.7 238.5 267.8C239.3 266.8 239.5 266.6 240.5 265.7C241.4 264.8 242.9 263.8 244.2 262.5C245.5 261.2 247.1 259.3 248.5 257.8C249.9 256.2 251.2 254.6 252.5 253.3C253.8 252.0 255.1 250.8 256.4 249.8C257.7 248.7 259.1 247.8 260.3 247.2C261.5 246.6 263.2 246.3 263.8 246.1"/>
<path d="M212.9 259.8C212.2 261.2 210.0 265.3 208.6 268.0C207.2 270.7 205.7 273.3 204.3 276.0C202.9 278.7 201.4 281.3 200.0 284.0C198.6 286.7 197.2 289.4 195.8 292.0C194.4 294.6 193.1 297.1 191.8 299.5C190.5 301.9 189.2 304.3 188.0 306.5C186.8 308.7 185.7 310.7 184.5 312.5C183.3 314.3 182.2 315.9 181.0 317.3C179.8 318.7 178.5 319.9 177.0 320.8C175.5 321.7 173.7 322.3 172.0 322.8C170.3 323.3 168.7 323.5 167.0 323.8C165.3 324.1 163.7 324.2 162.0 324.4C160.3 324.6 157.8 325.1 157.0 325.2" stroke-width="0.75" stroke="#555"/>
<path d="M212.9 259.8C212.1 261.2 209.7 265.3 208.2 268.0C206.6 270.7 205.1 273.3 203.6 276.0C202.0 278.7 200.5 281.3 198.9 284.0C197.4 286.7 196.0 289.4 194.5 292.0C193.1 294.6 191.6 297.1 190.3 299.5C189.0 301.9 187.7 304.3 186.5 306.5C185.3 308.7 184.2 310.7 183.0 312.5C181.8 314.3 180.8 315.9 179.5 317.3C178.2 318.7 176.9 320.1 175.5 321.1C174.1 322.1 172.7 322.7 171.2 323.2C169.8 323.7 168.5 323.9 167.0 324.2C165.5 324.4 163.7 324.5 162.0 324.7C160.3 324.9 157.8 325.1 157.0 325.2" stroke-width="0.75" stroke="#555"/>
<path d="M212.9 259.8C212.0 261.2 209.4 265.3 207.7 268.0C206.0 270.7 204.4 273.3 202.8 276.0C201.2 278.7 199.5 281.3 197.9 284.0C196.3 286.7 194.8 289.4 193.2 292.0C191.7 294.6 190.2 297.1 188.8 299.5C187.4 301.9 186.2 304.3 185.0 306.5C183.8 308.7 182.7 310.7 181.5 312.5C180.3 314.3 179.2 315.8 178.0 317.3C176.8 318.8 175.2 320.4 174.0 321.4C172.8 322.4 171.7 323.0 170.5 323.5C169.3 324.0 168.4 324.3 167.0 324.5C165.6 324.8 163.7 324.9 162.0 325.0C160.3 325.1 157.8 325.2 157.0 325.2" stroke-width="0.75" stroke="#555"/>
<path d="M212.9 259.8C213.3 260.5 214.6 262.3 215.5 264.0C216.4 265.7 217.3 268.2 218.1 270.0C218.9 271.8 219.8 273.6 220.5 275.0C221.2 276.4 221.5 277.2 222.3 278.5C223.1 279.8 224.4 281.3 225.5 282.5C226.6 283.7 227.6 284.7 228.6 285.5C229.6 286.3 230.4 287.0 231.5 287.5C232.6 288.0 233.9 288.3 235.0 288.5C236.1 288.7 236.9 288.8 238.0 288.6C239.1 288.5 240.7 287.8 241.8 287.6C242.9 287.4 243.5 287.2 244.5 287.2C245.5 287.1 246.5 287.2 247.6 287.3C248.7 287.4 249.7 287.6 251.0 287.7C252.3 287.8 253.8 287.9 255.3 288.0C256.8 288.1 258.6 288.0 260.0 288.0C261.4 288.0 262.9 288.0 264.0 288.2C265.1 288.4 265.7 288.6 266.5 289.0C267.3 289.4 268.1 289.7 268.8 290.3C269.5 290.9 270.1 291.7 270.7 292.5C271.3 293.3 272.0 294.2 272.6 295.0C273.2 295.8 273.9 296.7 274.5 297.5C275.1 298.3 275.7 299.1 276.5 299.8C277.3 300.6 278.5 301.4 279.5 302.0C280.5 302.6 281.5 302.9 282.3 303.5C283.1 304.1 283.8 304.7 284.5 305.5C285.2 306.3 285.9 307.6 286.8 308.5C287.7 309.4 288.7 310.2 289.6 310.6C290.5 311.0 291.1 311.0 292.0 310.6C292.9 310.2 293.9 309.6 294.9 308.4C295.9 307.2 296.9 305.1 298.0 303.5C299.1 301.9 300.2 300.1 301.3 298.7C302.4 297.3 303.4 296.0 304.5 295.0C305.6 294.0 306.8 292.9 307.7 292.5C308.6 292.1 309.3 292.2 310.0 292.4C310.7 292.6 311.3 293.0 312.0 293.6C312.7 294.2 313.5 295.3 314.2 296.3C314.9 297.3 315.7 298.6 316.3 299.8C316.9 301.0 317.5 302.5 318.0 303.5C318.5 304.5 319.0 305.3 319.5 305.8C320.0 306.3 320.5 306.5 321.0 306.6C321.5 306.7 322.0 306.6 322.7 306.4C323.4 306.2 324.3 305.8 325.0 305.6C325.7 305.4 326.7 305.1 327.0 305.0"/>
<path d="M212.9 259.8C213.5 260.5 215.3 262.3 216.5 264.0C217.7 265.7 218.8 268.2 219.8 270.0C220.8 271.8 221.7 273.6 222.5 275.0C223.3 276.4 223.9 277.3 224.8 278.5C225.7 279.7 226.8 280.9 227.8 282.0C228.8 283.1 229.7 284.1 230.7 284.8C231.7 285.5 232.6 286.0 233.7 286.3C234.8 286.6 236.0 286.8 237.1 286.9C238.2 287.0 238.8 286.8 240.0 287.0C241.2 287.2 242.7 287.6 244.0 287.9C245.3 288.2 246.7 288.4 248.0 288.6C249.3 288.8 250.7 288.8 252.0 288.9C253.3 289.0 254.7 289.0 256.0 289.1C257.3 289.2 258.7 289.2 260.0 289.3C261.3 289.4 262.9 289.4 264.0 289.6C265.1 289.8 265.8 290.2 266.5 290.6C267.2 291.0 267.8 291.6 268.5 292.2C269.2 292.8 269.8 293.7 270.5 294.5C271.2 295.3 271.8 296.3 272.5 297.2C273.2 298.1 273.8 299.0 274.5 299.8C275.2 300.6 276.0 301.4 276.8 302.0C277.6 302.6 278.5 303.0 279.5 303.6C280.5 304.2 281.9 304.5 283.0 305.5C284.1 306.5 285.3 308.2 286.4 309.5C287.5 310.8 288.4 312.3 289.5 313.5C290.6 314.7 291.7 315.8 292.8 316.9C293.9 318.0 294.9 319.3 296.0 320.3C297.1 321.3 298.3 322.4 299.2 323.1C300.1 323.8 300.8 324.1 301.5 324.3C302.2 324.5 302.7 324.6 303.5 324.5C304.3 324.4 305.4 324.1 306.5 323.5C307.6 322.9 308.8 322.1 309.9 321.2C311.0 320.3 311.9 319.1 313.0 318.0C314.1 316.9 315.4 315.6 316.3 314.6C317.2 313.6 317.8 312.9 318.5 312.2C319.2 311.5 319.8 310.9 320.5 310.3C321.2 309.7 321.9 309.0 322.7 308.3C323.4 307.6 324.3 306.7 325.0 306.2C325.7 305.7 326.7 305.4 327.0 305.2"/>
<path d="M156.0 326.5C156.2 325.7 157.0 322.9 157.5 321.5C158.0 320.1 158.5 319.4 159.1 318.0C159.7 316.6 160.6 314.4 161.3 312.8C162.1 311.2 162.8 309.5 163.6 308.1C164.4 306.7 165.3 305.5 166.2 304.5C167.1 303.5 168.1 302.7 168.9 302.3C169.7 301.9 170.4 301.9 171.2 302.0C171.9 302.1 172.7 302.3 173.4 302.7C174.2 303.1 174.9 303.9 175.7 304.5C176.4 305.1 177.2 305.9 177.9 306.6C178.6 307.3 179.4 308.0 180.0 308.5C180.6 309.0 181.1 309.3 181.7 309.5C182.3 309.7 183.0 309.7 183.6 309.5C184.2 309.3 184.8 308.9 185.5 308.1C186.2 307.4 186.9 306.0 187.5 305.0C188.1 304.0 188.7 303.0 189.3 302.2C189.9 301.4 190.6 300.7 191.2 300.2C191.8 299.7 192.5 299.3 193.1 299.1C193.7 298.9 194.4 298.8 195.0 298.8C195.6 298.8 196.2 298.9 196.8 299.0C197.4 299.1 198.0 299.3 198.5 299.6C199.0 299.9 199.3 300.2 200.0 300.6C200.7 301.0 201.8 301.6 202.5 302.0C203.2 302.4 203.8 302.6 204.5 302.7C205.2 302.8 205.6 302.9 206.4 302.8C207.2 302.7 208.4 302.3 209.5 302.0C210.6 301.7 211.8 301.0 212.8 300.8C213.8 300.6 214.6 300.7 215.5 300.8C216.4 300.9 217.3 301.3 218.1 301.7C218.9 302.1 219.6 302.8 220.3 303.2C221.0 303.6 221.6 303.9 222.3 303.8C223.0 303.7 223.8 303.4 224.5 302.8C225.2 302.2 225.8 301.5 226.5 300.5C227.2 299.5 227.8 298.2 228.5 297.0C229.2 295.8 230.0 294.5 230.7 293.5C231.4 292.5 232.1 291.8 232.8 291.2C233.5 290.6 234.0 290.4 234.9 290.1C235.8 289.8 236.9 289.6 238.0 289.3C239.1 289.1 240.3 288.9 241.3 288.6C242.3 288.3 243.2 287.8 244.0 287.5C244.8 287.2 245.3 286.7 246.0 286.6C246.7 286.6 247.7 287.1 248.0 287.2" stroke-width="1.15" stroke="#262626"/>
<path d="M229.0 327.0C229.5 325.8 230.8 322.2 232.0 320.0C233.2 317.8 234.7 315.6 236.0 313.5C237.3 311.4 238.7 309.3 240.0 307.5C241.3 305.7 242.8 303.7 244.0 302.5C245.2 301.3 246.1 300.7 247.0 300.2C247.9 299.7 248.7 299.6 249.5 299.6C250.3 299.7 251.1 299.9 252.0 300.5C252.9 301.1 254.0 301.8 255.0 303.0C256.0 304.2 257.1 306.2 258.0 308.0C258.9 309.8 259.8 312.0 260.5 314.0C261.2 316.0 261.9 318.0 262.5 320.0C263.1 322.0 263.8 325.0 264.0 326.0"/>
<path d="M233.0 327.0C233.5 325.8 234.9 322.3 236.0 320.0C237.1 317.7 238.3 315.1 239.5 313.0C240.7 310.9 241.8 308.9 243.0 307.5C244.2 306.1 245.4 305.0 246.5 304.3C247.6 303.6 248.5 303.5 249.5 303.5C250.5 303.5 251.5 303.8 252.5 304.5C253.5 305.2 254.6 306.5 255.5 308.0C256.4 309.5 257.2 311.5 258.0 313.5C258.8 315.5 259.5 317.9 260.0 320.0C260.5 322.1 260.8 325.0 261.0 326.0"/>
<path d="M264.0 326.0C264.3 324.7 265.2 320.5 266.0 318.0C266.8 315.5 267.6 313.1 268.5 311.0C269.4 308.9 270.3 306.9 271.5 305.5C272.7 304.1 274.2 302.8 275.5 302.5C276.8 302.2 277.9 303.0 279.0 304.0C280.1 305.0 281.1 306.7 282.0 308.5C282.9 310.3 283.8 312.8 284.5 315.0C285.2 317.2 285.7 320.2 286.1 322.0C286.5 323.8 286.9 325.3 287.0 326.0"/>
<path d="M266.9 326.0C267.2 324.8 267.8 321.3 268.5 319.0C269.2 316.7 270.2 313.8 271.0 312.0C271.8 310.2 272.8 308.9 273.5 308.0C274.2 307.1 274.8 306.5 275.5 306.4C276.2 306.3 277.2 306.6 278.0 307.5C278.8 308.4 279.8 310.2 280.5 312.0C281.2 313.8 282.0 316.2 282.5 318.5C283.0 320.8 283.3 324.8 283.5 326.0"/>
<path d="M309.9 326.0C310.3 325.0 311.6 321.8 312.5 320.0C313.4 318.2 314.7 316.2 315.5 315.0C316.3 313.8 316.8 313.4 317.5 313.0C318.2 312.6 318.9 312.4 319.5 312.6C320.1 312.9 320.8 313.4 321.3 314.5C321.8 315.6 322.1 317.1 322.7 319.0C323.3 320.9 324.4 324.8 324.8 326.0"/>
<path d="M280.0 172.0C280.2 173.2 280.8 177.2 281.5 179.3C282.2 181.4 283.5 182.6 284.5 184.5C285.5 186.4 286.7 188.2 287.6 190.5C288.5 192.8 289.1 195.2 290.0 198.0C290.9 200.8 291.9 204.8 292.7 207.5C293.5 210.2 294.2 212.3 294.8 214.5C295.4 216.7 296.0 218.7 296.5 220.4C297.0 222.2 297.5 223.8 298.0 225.0C298.5 226.2 299.0 227.3 299.5 227.8C300.0 228.3 300.4 228.2 301.0 227.8C301.6 227.4 302.3 226.3 303.0 225.5C303.7 224.7 304.1 224.2 305.3 223.0C306.5 221.8 308.3 219.7 310.0 218.0C311.7 216.3 313.6 214.3 315.4 212.6C317.1 210.8 318.8 209.1 320.5 207.5C322.2 205.9 324.2 204.1 325.5 203.0C326.8 201.9 327.6 201.3 328.0 201.0"/>
<path d="M278.9 172.2C279.2 173.5 279.7 177.5 280.5 179.7C281.2 181.8 282.5 183.2 283.5 185.0C284.6 186.9 285.7 188.7 286.6 190.9C287.5 193.1 288.1 195.5 288.9 198.3C289.8 201.1 290.8 205.1 291.6 207.8C292.4 210.6 293.1 212.7 293.7 214.8C294.4 217.0 294.9 219.0 295.4 220.7C296.0 222.5 296.4 224.1 297.0 225.4C297.5 226.7 298.0 228.1 298.7 228.6C299.5 229.2 300.8 229.1 301.6 228.7C302.4 228.3 303.1 227.1 303.8 226.2C304.6 225.4 304.9 225.0 306.1 223.8C307.3 222.5 309.1 220.5 310.8 218.8C312.5 217.0 314.4 215.1 316.2 213.4C317.9 211.6 319.6 209.9 321.3 208.3C322.9 206.7 325.0 204.9 326.2 203.8C327.5 202.8 328.3 202.2 328.7 201.9"/>
<path d="M291.0 172.0C291.7 173.2 293.9 177.4 295.2 179.3C296.5 181.2 297.7 182.1 299.0 183.5C300.3 184.9 301.6 186.3 302.8 187.6C304.1 188.9 305.2 190.2 306.5 191.5C307.8 192.8 309.1 194.1 310.3 195.2C311.6 196.3 312.7 197.2 314.0 198.0C315.3 198.8 316.6 199.6 317.9 200.2C319.1 200.8 320.2 201.3 321.5 201.7C322.8 202.1 324.4 202.5 325.5 202.7C326.6 202.9 327.6 202.9 328.0 203.0"/>
<path d="M290.0 172.5C290.8 173.8 292.9 178.0 294.3 179.9C295.7 181.9 296.9 182.8 298.2 184.2C299.5 185.6 300.7 187.0 302.0 188.4C303.3 189.7 304.5 191.0 305.7 192.3C307.0 193.6 308.3 194.9 309.6 196.0C310.9 197.1 312.1 198.1 313.4 198.9C314.7 199.8 316.1 200.5 317.4 201.2C318.7 201.8 319.8 202.3 321.2 202.7C322.5 203.2 324.2 203.6 325.3 203.8C326.4 204.0 327.4 204.0 327.9 204.1"/>
</g>
<rect x="54.2" y="18.8" width="58.8" height="40.1" fill="#fff"/>
<line x1="81.7" y1="18.8" x2="81.7" y2="58.9" stroke="#74c48a" stroke-width="1.2"/>
<line x1="81.7" y1="39.1" x2="54.2" y2="23.0" stroke="#3a3a3a" stroke-width="0.9"/>
<line x1="81.7" y1="39.1" x2="54.2" y2="53.7" stroke="#3a3a3a" stroke-width="0.9"/>
<line x1="81.7" y1="39.1" x2="95.5" y2="18.8" stroke="#3a3a3a" stroke-width="0.9"/>
<line x1="81.7" y1="39.1" x2="113.0" y2="21.5" stroke="#3a3a3a" stroke-width="0.9"/>
<line x1="81.7" y1="39.1" x2="113.0" y2="57.5" stroke="#3a3a3a" stroke-width="0.9"/>
<line x1="81.7" y1="39.1" x2="94.4" y2="58.9" stroke="#3a3a3a" stroke-width="0.9"/>
<rect x="54.2" y="18.8" width="58.8" height="40.1" fill="none" stroke="#f47c7c" stroke-width="1"/>
<rect x="134.8" y="97.4" width="13.9" height="9.5" fill="none" stroke="#f47c7c" stroke-width="1"/>
<rect x="241.4" y="196.9" width="44.8" height="37.5" fill="#fff"/>
<line x1="241.6" y1="197.3" x2="285.7" y2="215.0" stroke="#3a3a3a" stroke-width="0.8"/>
<line x1="243.2" y1="197.3" x2="285.7" y2="215.2" stroke="#3a3a3a" stroke-width="0.8"/>
<line x1="249.4" y1="197.3" x2="285.7" y2="215.0" stroke="#3a3a3a" stroke-width="0.8"/>
<line x1="250.9" y1="234.4" x2="285.7" y2="215.0" stroke="#3a3a3a" stroke-width="0.8"/>
<line x1="252.4" y1="234.4" x2="285.7" y2="215.2" stroke="#3a3a3a" stroke-width="0.8"/>
<line x1="256.7" y1="234.4" x2="285.7" y2="215.0" stroke="#3a3a3a" stroke-width="0.8"/>
<rect x="241.4" y="196.9" width="44.8" height="37.5" fill="none" stroke="#f47c7c" stroke-width="1"/>
<rect x="316.9" y="199.5" width="10.1" height="8.3" fill="none" stroke="#f47c7c" stroke-width="1"/>
<rect x="109.4" y="257.4" width="41.8" height="42.0" fill="#fff"/>
<line x1="131.1" y1="257.4" x2="131.1" y2="299.4" stroke="#74c48a" stroke-width="1.2"/>
<clipPath id="cbl"><rect x="109.4" y="257.4" width="41.8" height="42.0"/></clipPath>
<g clip-path="url(#cbl)" fill="none" stroke="#3a3a3a" stroke-width="0.8">
<path d="M109.4 264.1C110.3 264.4 113.1 265.4 115.0 266.0C116.9 266.6 119.2 267.2 121.0 267.6C122.8 268.0 124.3 268.2 126.0 268.5C127.7 268.8 130.2 269.1 131.1 269.2"/>
<path d="M131.1 269.2C131.9 268.3 134.2 266.0 136.0 264.0C137.8 262.0 141.0 258.5 142.0 257.4"/>
<path d="M131.1 269.2C131.7 269.9 133.4 271.8 134.9 273.1C136.4 274.4 138.4 276.2 139.8 277.0C141.2 277.8 141.4 277.8 143.3 278.0C145.2 278.2 149.9 278.2 151.2 278.2"/>
<path d="M109.4 280.1C110.9 280.7 115.6 282.7 118.2 283.6C120.8 284.5 122.9 285.1 125.1 285.7C127.2 286.3 129.5 286.6 131.1 287.1C132.7 287.6 133.3 287.4 134.9 288.5C136.5 289.6 138.4 291.6 140.5 293.4C142.6 295.2 146.2 298.4 147.4 299.4"/>
<path d="M109.4 288.5C110.9 288.1 115.4 287.0 118.2 286.4C121.0 285.8 124.3 285.4 126.5 285.0C128.7 284.6 129.7 284.9 131.1 284.3C132.5 283.7 133.3 282.9 134.9 281.5C136.5 280.1 138.4 278.0 140.5 275.9C142.6 273.8 145.6 270.7 147.4 268.9C149.2 267.1 150.6 265.6 151.2 265.0"/>
<path d="M109.4 298.9C110.9 298.3 115.4 296.3 118.2 295.4C121.0 294.5 124.3 294.0 126.5 293.4C128.7 292.8 129.7 292.2 131.1 291.5C132.5 290.8 133.3 290.3 134.9 289.2C136.5 288.1 138.7 286.2 140.5 285.0C142.3 283.8 144.2 282.7 146.0 282.2C147.8 281.7 150.3 282.2 151.2 282.2"/>
<path d="M131.1 291.5C131.5 292.1 132.6 294.1 133.5 295.4C134.4 296.7 135.8 298.7 136.3 299.4"/>
<path d="M131.1 284.8C131.7 284.1 133.3 282.2 134.9 280.8C136.5 279.4 138.4 277.9 140.5 276.3C142.6 274.7 145.6 272.2 147.4 271.0C149.2 269.8 150.6 269.3 151.2 269.0"/>
<path d="M131.1 287.4C131.9 287.8 134.3 288.8 136.0 290.0C137.7 291.2 139.5 292.9 141.0 294.5C142.5 296.1 144.3 298.6 145.0 299.4"/>
</g>
<rect x="109.4" y="257.4" width="41.8" height="42.0" fill="none" stroke="#f47c7c" stroke-width="1"/>
<rect x="137.3" y="230.2" width="9.2" height="9.8" fill="none" stroke="#f47c7c" stroke-width="1"/>
<rect x="41.5" y="6.0" width="285.5" height="145.6" fill="none" stroke="#111" stroke-width="1.15"/>
<text transform="translate(36.60 8.10) scale(0.100)" font-size="93.5" text-anchor="end" class="f" stroke="#000" stroke-width="0.80">-0.8</text>
<line x1="41.5" y1="54.5" x2="46.0" y2="54.5" stroke="#111" stroke-width="1.1"/>
<text transform="translate(36.60 57.43) scale(0.100)" font-size="93.5" text-anchor="end" class="f" stroke="#000" stroke-width="0.80">-1</text>
<line x1="41.5" y1="103.1" x2="46.0" y2="103.1" stroke="#111" stroke-width="1.1"/>
<text transform="translate(36.60 105.97) scale(0.100)" font-size="93.5" text-anchor="end" class="f" stroke="#000" stroke-width="0.80">-1.2</text>
<text transform="translate(36.60 154.50) scale(0.100)" font-size="93.5" text-anchor="end" class="f" stroke="#000" stroke-width="0.80">-1.4</text>
<text transform="translate(42.00 163.40) scale(0.100)" font-size="93.5" text-anchor="middle" class="f" stroke="#000" stroke-width="0.80">Γ</text>
<text transform="translate(91.80 163.40) scale(0.100)" font-size="93.5" text-anchor="middle" class="f" stroke="#000" stroke-width="0.80">Y</text>
<line x1="91.3" y1="6.0" x2="91.3" y2="9.5" stroke="#2a5a34" stroke-width="1"/>
<line x1="91.3" y1="148.1" x2="91.3" y2="151.6" stroke="#2a5a34" stroke-width="1"/>
<text transform="translate(142.50 163.40) scale(0.100)" font-size="93.5" text-anchor="middle" class="f" stroke="#000" stroke-width="0.80">S</text>
<line x1="142.0" y1="6.0" x2="142.0" y2="9.5" stroke="#2a5a34" stroke-width="1"/>
<line x1="142.0" y1="148.1" x2="142.0" y2="151.6" stroke="#2a5a34" stroke-width="1"/>
<text transform="translate(213.60 163.40) scale(0.100)" font-size="93.5" text-anchor="middle" class="f" stroke="#000" stroke-width="0.80">Γ</text>
<line x1="213.1" y1="6.0" x2="213.1" y2="9.5" stroke="#2a5a34" stroke-width="1"/>
<line x1="213.1" y1="148.1" x2="213.1" y2="151.6" stroke="#2a5a34" stroke-width="1"/>
<text transform="translate(264.10 163.40) scale(0.100)" font-size="93.5" text-anchor="middle" class="f" stroke="#000" stroke-width="0.80">X</text>
<line x1="263.6" y1="6.0" x2="263.6" y2="9.5" stroke="#2a5a34" stroke-width="1"/>
<line x1="263.6" y1="148.1" x2="263.6" y2="151.6" stroke="#2a5a34" stroke-width="1"/>
<text transform="translate(327.50 163.40) scale(0.100)" font-size="93.5" text-anchor="middle" class="f" stroke="#000" stroke-width="0.80">Y</text>
<rect x="41.5" y="179.0" width="285.5" height="146.0" fill="none" stroke="#111" stroke-width="1.15"/>
<text transform="translate(36.60 181.10) scale(0.100)" font-size="93.5" text-anchor="end" class="f" stroke="#000" stroke-width="0.80">-0.8</text>
<line x1="41.5" y1="227.7" x2="46.0" y2="227.7" stroke="#111" stroke-width="1.1"/>
<text transform="translate(36.60 230.57) scale(0.100)" font-size="93.5" text-anchor="end" class="f" stroke="#000" stroke-width="0.80">-1</text>
<line x1="41.5" y1="276.3" x2="46.0" y2="276.3" stroke="#111" stroke-width="1.1"/>
<text transform="translate(36.60 279.23) scale(0.100)" font-size="93.5" text-anchor="end" class="f" stroke="#000" stroke-width="0.80">-1.2</text>
<text transform="translate(36.60 327.90) scale(0.100)" font-size="93.5" text-anchor="end" class="f" stroke="#000" stroke-width="0.80">-1.4</text>
<text transform="translate(42.00 336.80) scale(0.100)" font-size="93.5" text-anchor="middle" class="f" stroke="#000" stroke-width="0.80">Γ</text>
<text transform="translate(91.80 336.80) scale(0.100)" font-size="93.5" text-anchor="middle" class="f" stroke="#000" stroke-width="0.80">Y</text>
<line x1="91.3" y1="179.0" x2="91.3" y2="182.5" stroke="#2a5a34" stroke-width="1"/>
<line x1="91.3" y1="321.5" x2="91.3" y2="325.0" stroke="#2a5a34" stroke-width="1"/>
<text transform="translate(142.50 336.80) scale(0.100)" font-size="93.5" text-anchor="middle" class="f" stroke="#000" stroke-width="0.80">S</text>
<line x1="142.0" y1="179.0" x2="142.0" y2="182.5" stroke="#2a5a34" stroke-width="1"/>
<line x1="142.0" y1="321.5" x2="142.0" y2="325.0" stroke="#2a5a34" stroke-width="1"/>
<text transform="translate(213.60 336.80) scale(0.100)" font-size="93.5" text-anchor="middle" class="f" stroke="#000" stroke-width="0.80">Γ</text>
<line x1="213.1" y1="179.0" x2="213.1" y2="182.5" stroke="#2a5a34" stroke-width="1"/>
<line x1="213.1" y1="321.5" x2="213.1" y2="325.0" stroke="#2a5a34" stroke-width="1"/>
<text transform="translate(264.10 336.80) scale(0.100)" font-size="93.5" text-anchor="middle" class="f" stroke="#000" stroke-width="0.80">X</text>
<line x1="263.6" y1="179.0" x2="263.6" y2="182.5" stroke="#2a5a34" stroke-width="1"/>
<line x1="263.6" y1="321.5" x2="263.6" y2="325.0" stroke="#2a5a34" stroke-width="1"/>
<text transform="translate(327.50 336.80) scale(0.100)" font-size="93.5" text-anchor="middle" class="f" stroke="#000" stroke-width="0.80">Y</text>
<text transform="translate(-0.60 9.70) scale(0.100)" font-size="130.0" text-anchor="start" class="f" stroke="#000" stroke-width="1.00">(a)</text>
<text transform="translate(-0.60 179.20) scale(0.100)" font-size="130.0" text-anchor="start" class="f" stroke="#000" stroke-width="1.00">(b)</text>
<text transform="translate(13.00 75.70) rotate(-90) scale(0.100)" font-size="124.0" text-anchor="middle" class="f" stroke="#000" stroke-width="1.80">Energy [eV]</text>
<text transform="translate(13.00 248.70) rotate(-90) scale(0.100)" font-size="124.0" text-anchor="middle" class="f" stroke="#000" stroke-width="1.80">Energy [eV]</text>
</svg>
</body></html>
